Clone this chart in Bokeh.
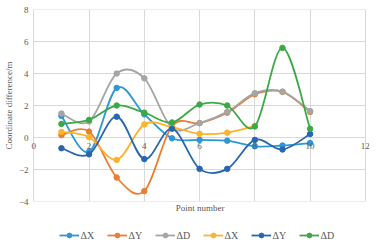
from bokeh.plotting import figure
from bokeh.layouts import column
from bokeh.models import Range1d, FixedTicker, Legend, LegendItem, ColumnDataSource, LabelSet
from bokeh.core.properties import value
from bokeh.embed import file_html
from bokeh.resources import INLINE
import numpy as np

# ---- data ----
points = [1, 2, 3, 4, 5, 6, 7, 8, 9, 10]
points_short = [1, 2, 3, 4, 5, 6, 7, 8]
dx_1 = [1.35, -0.9, 3.1, 1.45, -0.05, -0.15, -0.2, -0.55, -0.5, -0.35]
dy_1 = [0.15, 0.37, -2.5, -3.35, 0.7, 0.9, 1.55, 2.7, 2.85, 1.6]
dd_1 = [1.5, 1.0, 4.0, 3.7, 0.6, 0.9, 1.6, 2.77, 2.87, 1.65]
dx_2 = [0.35, 0.02, -1.4, 0.82, 0.65, 0.23, 0.3, 0.72]
dy_2 = [-0.67, -1.05, 1.3, -1.35, 0.55, -1.96, -1.96, -0.15, -0.75, 0.22]
dd_2 = [0.85, 1.1, 2.0, 1.55, 0.94, 2.06, 2.0, 0.69, 5.6, 0.54]

labels = ["\u0394X", "\u0394Y", "\u0394D", "\u0394X", "\u0394Y", "\u0394D"]
colors = ["#2E97D4", "#ED7D31", "#A5A5A5", "#FDB32A", "#2866B0", "#3DA946"]
x_ticks = [0, 2, 4, 6, 8, 10, 12]
y_ticks = [-4, -2, 0, 2, 4, 6, 8]

series = [
    (points, dx_1),
    (points, dy_1),
    (points, dd_1),
    (points_short, dx_2),
    (points, dy_2),
    (points, dd_2),
]

FONT = "Liberation Serif"
TXT = "#595959"
GRID = "#D9D9D9"

p = figure(width=374, height=215, output_backend="svg", toolbar_location=None,
           x_range=Range1d(-0.12, 12.15), y_range=Range1d(-4, 8),
           min_border_left=23, min_border_right=5, min_border_top=9, min_border_bottom=14)
p.outline_line_color = None
p.background_fill_color = "white"

# y axis
p.yaxis.ticker = FixedTicker(ticks=y_ticks)
p.yaxis.axis_line_color = None
p.yaxis.major_tick_line_color = None
p.yaxis.minor_tick_line_color = None
p.yaxis.major_tick_out = 0
p.yaxis.major_tick_in = 0
p.yaxis.major_label_standoff = 2
p.yaxis.major_label_text_font = FONT
p.yaxis.major_label_text_font_size = "9px"
p.yaxis.major_label_text_color = TXT
p.yaxis.axis_label = "Coordinate difference/m"
p.yaxis.axis_label_text_font = FONT
p.yaxis.axis_label_text_font_style = "normal"
p.yaxis.axis_label_text_font_size = "9px"
p.yaxis.axis_label_text_color = TXT
p.yaxis.axis_label_standoff = 2

# x axis: only the title at the bottom; tick labels sit on the y=0 line
p.xaxis.ticker = FixedTicker(ticks=[])
p.xaxis.axis_line_color = None
p.xaxis.major_tick_line_color = None
p.xaxis.minor_tick_line_color = None
p.xaxis.major_tick_out = 0
p.xaxis.major_tick_in = 0
p.xaxis.major_label_standoff = 0
p.xaxis.axis_label = "Point number"
p.xaxis.axis_label_text_font = FONT
p.xaxis.axis_label_text_font_style = "normal"
p.xaxis.axis_label_text_font_size = "9px"
p.xaxis.axis_label_text_color = TXT
p.xaxis.axis_label_standoff = 1

# grid: vertical lines from the x grid, horizontal lines limited to 0..12
p.xgrid.ticker = FixedTicker(ticks=x_ticks)
p.xgrid.grid_line_color = GRID
p.xgrid.grid_line_width = 1
p.ygrid.visible = False
p.segment(x0=[x_ticks[0]] * len(y_ticks), x1=[x_ticks[-1]] * len(y_ticks),
          y0=y_ticks, y1=y_ticks, line_color=GRID, line_width=1)

tick_src = ColumnDataSource(dict(x=x_ticks, y=[0] * len(x_ticks),
                                 t=[str(t) for t in x_ticks]))
p.add_layout(LabelSet(x="x", y="y", text="t", source=tick_src,
                      text_font=value(FONT), text_font_size="9px", text_color=TXT,
                      text_align="center", text_baseline="top", y_offset=-5))


def smooth_segments(xs, ys):
    xs = np.asarray(xs, float)
    ys = np.asarray(ys, float)
    n = len(xs)
    x0, y0, x1, y1, cx0, cy0, cx1, cy1 = [], [], [], [], [], [], [], []
    for i in range(n - 1):
        im = max(i - 1, 0)
        ip = min(i + 2, n - 1)
        x0.append(xs[i]); y0.append(ys[i])
        x1.append(xs[i + 1]); y1.append(ys[i + 1])
        cx0.append(xs[i] + (xs[i + 1] - xs[im]) / 6)
        cy0.append(ys[i] + (ys[i + 1] - ys[im]) / 6)
        cx1.append(xs[i + 1] - (xs[ip] - xs[i]) / 6)
        cy1.append(ys[i + 1] - (ys[ip] - ys[i]) / 6)
    return dict(x0=x0, y0=y0, x1=x1, y1=y1, cx0=cx0, cy0=cy0, cx1=cx1, cy1=cy1)


for (xs, ys), col in zip(series, colors):
    src = ColumnDataSource(smooth_segments(xs, ys))
    p.bezier(x0="x0", y0="y0", x1="x1", y1="y1", cx0="cx0", cy0="cy0",
             cx1="cx1", cy1="cy1", source=src, line_color=col, line_width=1.8)
    p.scatter(xs, ys, size=5.5, color=col)

# legend strip: a second figure whose renderers lie outside its view
lg = figure(width=374, height=26, output_backend="svg", toolbar_location=None,
            x_range=Range1d(100, 101), y_range=Range1d(100, 101),
            min_border=0)
lg.outline_line_color = None
lg.axis.visible = False
lg.grid.visible = False
items = []
for (xs, ys), lab, col in zip(series, labels, colors):
    ln = lg.line(xs, ys, line_color=col, line_width=1.8)
    sc = lg.scatter(xs, ys, size=5, color=col)
    items.append(LegendItem(label=lab, renderers=[ln, sc]))
legend = Legend(items=items, orientation="horizontal", location="bottom",
                label_text_font=FONT, label_text_font_size="10px",
                label_text_color=TXT, glyph_width=20, glyph_height=12,
                label_height=12, label_standoff=2, spacing=6, padding=0, margin=0,
                border_line_color=None, background_fill_alpha=0)
lg.add_layout(legend, "center")

layout = column(p, lg, spacing=0)
open("out.html", "w").write(file_html(layout, INLINE))
